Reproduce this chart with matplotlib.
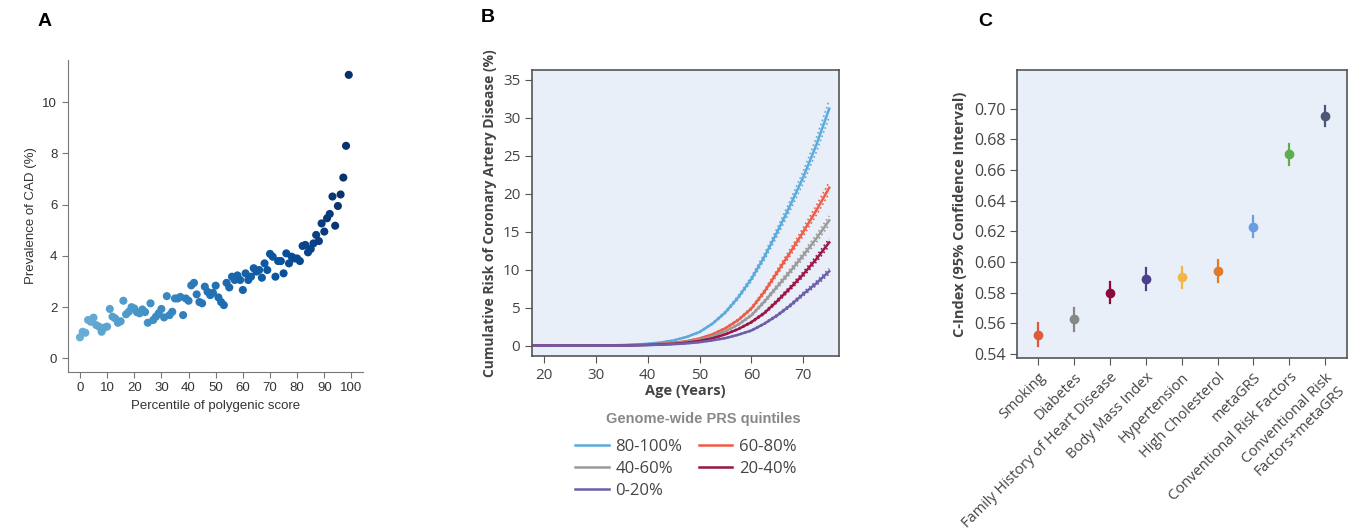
import numpy as np
import matplotlib.pyplot as plt
from matplotlib import cm

# ---- panel A: prevalence of CAD by percentile of polygenic score
pct = np.arange(100)
prev = [0.82, 1.04, 1.00, 1.50, 1.43, 1.59, 1.30, 1.24, 1.04, 1.20,
        1.24, 1.93, 1.63, 1.56, 1.39, 1.45, 2.25, 1.72, 1.82, 2.00,
        1.95, 1.80, 1.76, 1.91, 1.81, 1.39, 2.15, 1.50, 1.63, 1.76,
        1.93, 1.60, 2.43, 1.69, 1.82, 2.34, 2.34, 2.40, 1.69, 2.34,
        2.25, 2.85, 2.95, 2.50, 2.20, 2.15, 2.80, 2.60, 2.47, 2.56,
        2.84, 2.38, 2.20, 2.08, 2.95, 2.77, 3.19, 3.06, 3.24, 3.06,
        2.67, 3.32, 3.06, 3.19, 3.52, 3.39, 3.45, 3.15, 3.71, 3.45,
        4.08, 3.97, 3.19, 3.80, 3.80, 3.32, 4.10, 3.71, 3.97, 3.90,
        3.90, 3.80, 4.39, 4.43, 4.14, 4.27, 4.49, 4.82, 4.58, 5.27,
        4.95, 5.47, 5.64, 6.32, 5.18, 5.95, 6.40, 7.06, 8.30, 11.07]

# ---- panel B: cumulative risk by PRS quintile
ages = [18, 25, 30, 35, 37.5, 40, 42.5, 45, 47.5, 50, 52.5, 55, 57.5, 60, 62.5, 65, 67.5, 70, 72.5, 75]
risk = {
    "80-100%": [0, 0, 0.02, 0.08, 0.15, 0.25, 0.42, 0.70, 1.15, 1.80, 2.90, 4.40, 6.40, 8.80, 11.7, 15.0, 18.5, 22.2, 26.4, 31.2],
    "60-80%":  [0, 0, 0.01, 0.05, 0.09, 0.15, 0.24, 0.38, 0.60, 0.95, 1.50, 2.30, 3.40, 4.90, 7.10, 9.70, 12.3, 15.0, 17.8, 20.8],
    "40-60%":  [0, 0, 0.01, 0.04, 0.07, 0.12, 0.20, 0.31, 0.50, 0.78, 1.22, 1.90, 2.80, 4.00, 5.80, 7.80, 9.80, 11.9, 14.1, 16.5],
    "20-40%":  [0, 0, 0.01, 0.03, 0.06, 0.10, 0.16, 0.25, 0.40, 0.62, 0.97, 1.50, 2.20, 3.10, 4.30, 5.90, 7.60, 9.40, 11.4, 13.6],
    "0-20%":   [0, 0, 0.01, 0.03, 0.05, 0.08, 0.13, 0.20, 0.30, 0.46, 0.70, 1.00, 1.45, 2.00, 2.90, 4.00, 5.30, 6.80, 8.20, 9.80],
}
risk_colors = {"80-100%": "#5aaadc", "60-80%": "#ee5c48", "40-60%": "#9a9a9a",
               "20-40%": "#9b1545", "0-20%": "#6c5ea8"}
ci_rel = 0.035

# ---- panel C: C-index with 95% CI
models = ["Smoking", "Diabetes", "Family History of Heart Disease", "Body Mass Index",
          "Hypertension", "High Cholesterol", "metaGRS", "Conventional Risk Factors",
          "Conventional Risk\nFactors+metaGRS"]
cidx = [0.5522, 0.5626, 0.5800, 0.5891, 0.5902, 0.5939, 0.6226, 0.6704, 0.6955]
ci_lo = [0.545, 0.555, 0.573, 0.582, 0.583, 0.587, 0.616, 0.663, 0.689]
ci_hi = [0.560, 0.570, 0.587, 0.596, 0.597, 0.601, 0.630, 0.677, 0.702]
model_colors = ["#dd5a3a", "#878787", "#8c0a3a", "#4b3f8f", "#f0b840",
                "#e07b2c", "#6a9ee0", "#5cae4e", "#4a5878"]

fig = plt.figure(figsize=(13.54, 5.31), dpi=100)

# ============ A
axA = fig.add_axes([0.050, 0.300, 0.218, 0.587])
cols = cm.Blues(np.linspace(0.5, 1.0, len(pct)))
axA.scatter(pct, prev, s=34, c=cols, edgecolors="none", zorder=3)
axA.set_xlim(-4.5, 104.2)
axA.set_ylim(-0.52, 11.65)
axA.set_xticks(range(0, 101, 10))
axA.set_yticks(range(0, 11, 2))
for s in ["top", "right"]:
    axA.spines[s].set_visible(False)
for s in ["left", "bottom"]:
    axA.spines[s].set_color("#777777")
axA.tick_params(colors="#777777", labelcolor="#333333", labelsize=9.5, length=4)
for lab in axA.get_xticklabels() + axA.get_yticklabels():
    lab.set_family("Liberation Sans")
axA.set_xlabel("Percentile of polygenic score", fontsize=9.5, family="Liberation Sans", color="#333333")
axA.set_ylabel("Prevalence of CAD (%)", fontsize=9.5, family="Liberation Sans", color="#333333")
fig.text(45 / 1354, 1 - 22 / 531, "A", fontsize=14, fontweight="bold", family="Liberation Sans",
         ha="center", va="center")

# ============ B
bg = "#e9eff8"
axB = fig.add_axes([0.3929, 0.3301, 0.2268, 0.5381])
axB.set_facecolor(bg)
handles = {}
for name, vals in risk.items():
    v = np.array(vals)
    c = risk_colors[name]
    axB.plot(ages, v * (1 + ci_rel), ls=":", lw=1.2, color=c)
    axB.plot(ages, v * (1 - ci_rel), ls=":", lw=1.2, color=c)
    handles[name], = axB.plot(ages, v, lw=1.8, color=c, label=name)
axB.set_xlim(17.7, 76.9)
axB.set_ylim(-1.32, 36.3)
axB.set_xticks(range(20, 71, 10))
axB.set_yticks(range(0, 36, 5))
for s in axB.spines.values():
    s.set_color("#555555")
    s.set_linewidth(1.2)
axB.tick_params(colors="#555555", labelcolor="#444444", labelsize=11, length=5)
for lab in axB.get_xticklabels() + axB.get_yticklabels():
    lab.set_family("Open Sans")
axB.set_xlabel("Age (Years)", fontsize=10.5, fontweight="bold", family="Open Sans", color="#444444", labelpad=1)
axB.set_ylabel("Cumulative Risk of Coronary Artery Disease (%)", fontsize=10, fontweight="bold",
               family="Open Sans", color="#444444", labelpad=4)
fig.text(703 / 1354, 1 - 419 / 531, "Genome-wide PRS quintiles", fontsize=10.5, fontweight="bold",
         family="Liberation Sans", color="#888888", ha="center", va="center")
order = ["80-100%", "40-60%", "0-20%", "60-80%", "20-40%"]
leg = fig.legend([handles[k] for k in order], order, ncol=2, loc="upper center",
                 bbox_to_anchor=(686 / 1354, 1 - 424 / 531), frameon=False,
                 prop={"family": "Open Sans", "size": 12}, handlelength=2.0,
                 handletextpad=0.4, columnspacing=1.0, labelspacing=0.35, labelcolor="#444444")
fig.text(488 / 1354, 1 - 17 / 531, "B", fontsize=14, fontweight="bold", family="Liberation Sans",
         ha="center", va="center")

# ============ C
axC = fig.add_axes([0.7513, 0.3252, 0.2433, 0.5430])
axC.set_facecolor(bg)
xs = np.arange(len(models))
for i in xs:
    axC.plot([i, i], [ci_lo[i], ci_hi[i]], color=model_colors[i], lw=1.6, zorder=2)
    axC.plot(i, cidx[i], "o", ms=6, color=model_colors[i], zorder=3)
axC.set_xlim(-0.59, 8.6)
axC.set_ylim(0.5372, 0.7252)
axC.set_yticks(np.arange(0.54, 0.701, 0.02))
axC.set_yticklabels([f"{v:.2f}" for v in np.arange(0.54, 0.701, 0.02)])
axC.set_xticks(xs)
axC.set_xticklabels(models, rotation=45, ha="right", rotation_mode="anchor", multialignment="center")
for s in axC.spines.values():
    s.set_color("#555555")
    s.set_linewidth(1.2)
axC.tick_params(colors="#555555", labelcolor="#444444", labelsize=11.5, length=5)
for lab in axC.get_xticklabels() + axC.get_yticklabels():
    lab.set_family("Open Sans")
for lab in axC.get_xticklabels():
    lab.set_fontsize(10.5)
axC.set_ylabel("C-Index (95% Confidence Interval)", fontsize=10.5, fontweight="bold",
               family="Open Sans", color="#444444", labelpad=5)
fig.text(985 / 1354, 1 - 22 / 531, "C", fontsize=14, fontweight="bold", family="Liberation Sans",
         ha="center", va="center")

fig.savefig("out.png", dpi=100)
